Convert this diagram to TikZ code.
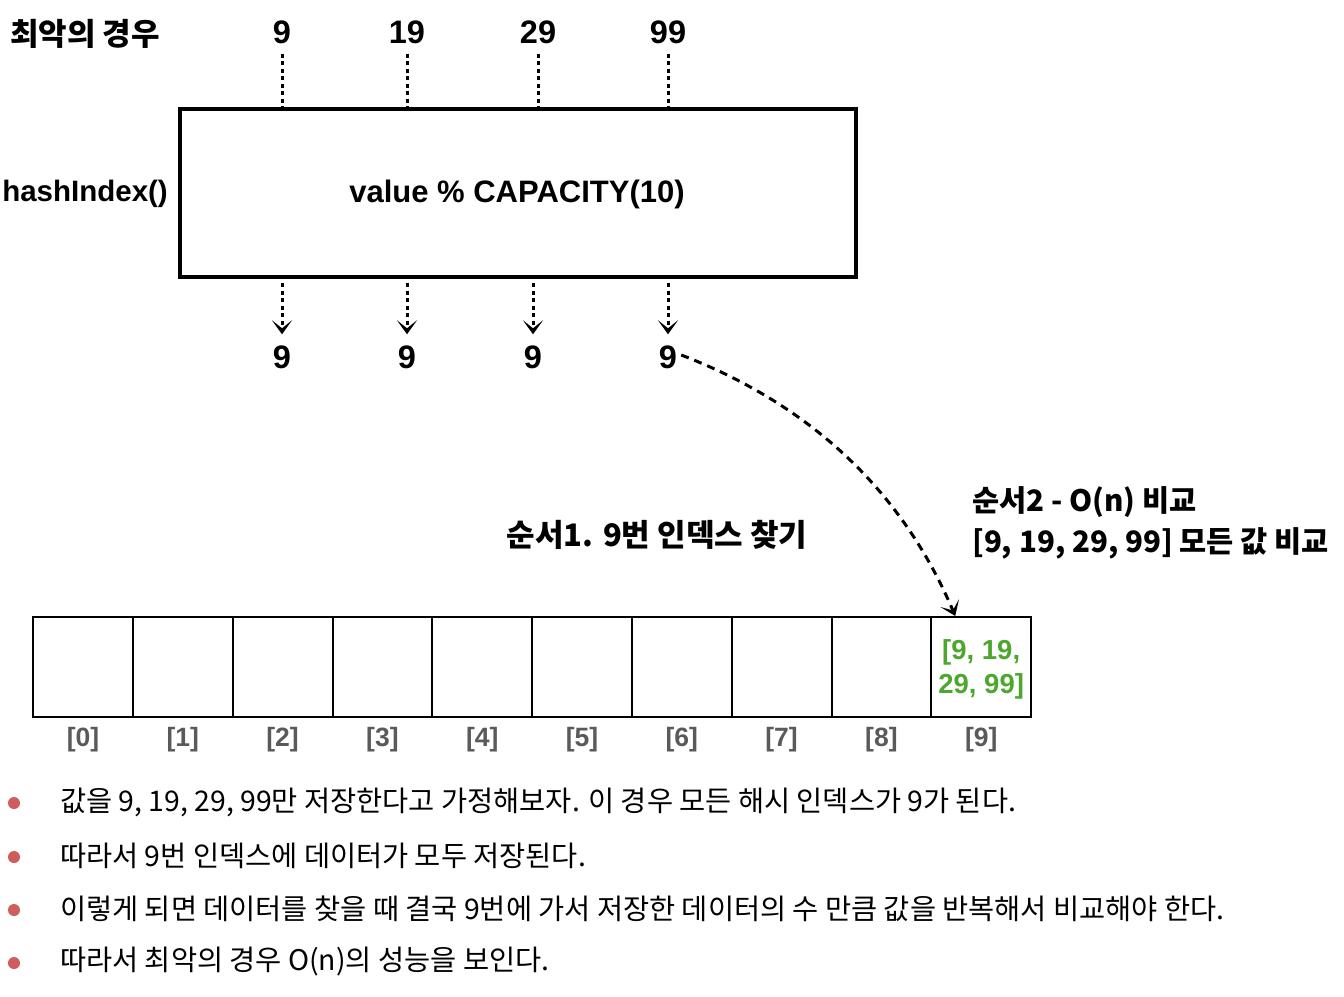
\documentclass[tikz,border=0pt]{standalone}
\usepackage{fontspec}
\setmainfont{Noto Sans CJK KR}
\newfontfamily\lat{Liberation Sans}
\usetikzlibrary{arrows.meta}
\definecolor{grn}{RGB}{77,167,47}
\definecolor{idx}{RGB}{90,90,90}
\definecolor{dot}{RGB}{208,92,92}
\tikzset{
  big/.style={font=\lat\bfseries\fontsize{32.5}{36}\selectfont, inner sep=0pt},
  mid/.style={font=\lat\bfseries\fontsize{31}{36}\selectfont, inner sep=0pt},
  krb/.style={font=\bfseries\fontsize{29.5}{34}\selectfont, inner sep=0pt},
  dotline/.style={line width=3pt, dash pattern=on 4pt off 3.5pt},
  tip/.style={-{Stealth[length=14pt,width=20pt,inset=8pt]}},
  cell/.style={draw, line width=2pt, minimum width=99.8pt, minimum height=100pt, inner sep=0pt},
  idxl/.style={font=\lat\bfseries\fontsize{26.5}{30}\selectfont, text=idx, inner sep=0pt},
  bul/.style={font=\fontsize{28.4}{32}\selectfont, anchor=west, inner sep=0pt},
  bdot/.style={circle, fill=dot, minimum size=12pt, inner sep=0pt}
}
\begin{document}
\begin{tikzpicture}[x=1pt,y=-1pt]
\useasboundingbox (0,0) rectangle (1344,996);
% title
\node[krb, font=\bfseries\fontsize{31}{34}\selectfont, anchor=west] (title) at (10,34) {최악의 경우};
% top values
\node[big] (t1) at (282,32) {9};
\node[big] (t2) at (407,32) {19};
\node[big] (t3) at (538,32) {29};
\node[big] (t4) at (668,32) {99};
% hash box
\node[draw, line width=4pt, minimum width=676pt, minimum height=168pt, inner sep=0pt] (box) at (518,193) {};
\node[mid] (expr) at (517,194) {value \% CAPACITY(10)};
\node[mid, font=\lat\bfseries\fontsize{29.5}{36}\selectfont, anchor=east] (hi) at (168,194) {hashIndex()};
\foreach \i in {1,...,4}{
  \draw[dotline] ([yshift=-10pt]t\i.south) -- (t\i.south |- box.north);
}
% bottom values
\node[big] (b1) at (282,357) {9};
\node[big] (b2) at (407,357) {9};
\node[big] (b3) at (533,357) {9};
\node[big] (b4) at (668,357) {9};
\foreach \i in {1,...,4}{
  \draw[dotline, tip] ([yshift=-4pt]b\i.north |- box.south) -- ([yshift=11pt]b\i.north);
}
% labels
\node[krb, anchor=west] (s2a) at (972,502) {순서2 - O(n) 비교};
\node[krb, anchor=west] (s2b) at (972,543) {[9, 19, 29, 99] 모든 값 비교};
\node[krb, font=\bfseries\fontsize{31}{34}\selectfont] (s1) at (657,535) {순서1. 9번 인덱스 찾기};
% array
\foreach \i in {0,...,9}{
  \node[cell] (c\i) at ({83+99.8*\i},667) {};
  \node[idxl] (l\i) at ({83+99.8*\i},740) {[\i]};
}
\node[font=\lat\bfseries\fontsize{27.5}{34}\selectfont, text=grn, align=center, inner sep=0pt] (vals) at ([yshift=-2pt]c9.center) {[9, 19,\\29, 99]};
% curved arrow
\draw[line width=3pt, dash pattern=on 8pt off 6pt, tip] ([xshift=4pt,yshift=2pt]b4.east) .. controls (845,418) and (918,528) .. ([xshift=-26pt]c9.north);
% bullets
\node[bdot] (d1) at (14,803) {};
\node[bdot] (d2) at (14,857) {};
\node[bdot] (d3) at (14,910) {};
\node[bdot] (d4) at (14,963) {};
\node[bul] (p1) at (60,802) {값을 9, 19, 29, 99만 저장한다고 가정해보자. 이 경우 모든 해시 인덱스가 9가 된다.};
\node[bul] (p2) at (60,856) {따라서 9번 인덱스에 데이터가 모두 저장된다.};
\node[bul] (p3) at (60,909) {이렇게 되면 데이터를 찾을 때 결국 9번에 가서 저장한 데이터의 수 만큼 값을 반복해서 비교해야 한다.};
\node[bul] (p4) at (60,962) {따라서 최악의 경우 O(n)의 성능을 보인다.};
\end{tikzpicture}
\end{document}
